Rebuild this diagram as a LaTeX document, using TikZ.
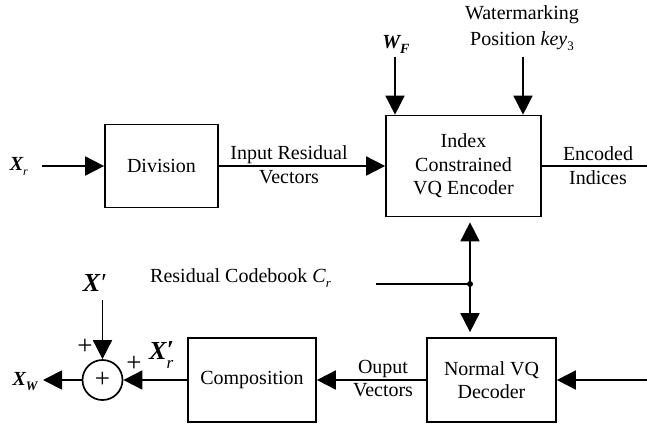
\documentclass[tikz,border=0pt]{standalone}
\usepackage{fontspec}
\setmainfont{Liberation Serif}
\usetikzlibrary{arrows.meta}

% small helpers for lowered/raised indices
\newcommand{\lowidx}[2]{\raisebox{-0.25em}{\fontsize{#1}{#1}\selectfont #2}}
\newcommand{\bix}{\bfseries\itshape}

\tikzset{
  txt/.style={font=\fontsize{20}{23.5}\selectfont, inner sep=0pt, align=center},
  blk/.style={draw, line width=1.7pt, txt, inner sep=0pt},
  arr/.style={line width=1.7pt, -{Triangle[length=19pt,width=19pt]}},
  wire/.style={line width=1.7pt},
  big/.style={font=\fontsize{26}{26}\selectfont, inner sep=0pt},
  plus/.style={font=\fontsize{27}{27}\selectfont, inner sep=0pt}
}

\begin{document}
\begin{tikzpicture}[x=1pt,y=-1pt]
\useasboundingbox (0,0) rectangle (647,428);

% blocks
\node[blk, minimum width=113pt, minimum height=83pt] (div) at (161.5,166) {Division};
\node[blk, minimum width=155pt, minimum height=101pt] (enc) at (463.5,166) {Index\\Constrained\\VQ Encoder};
\node[blk, minimum width=129pt, minimum height=84pt] (dec) at (491.5,380) {Normal VQ\\Decoder};
\node[blk, minimum width=128pt, minimum height=84pt] (comp) at (252,380) {Composition};
\node[draw, circle, line width=1.7pt, minimum size=40pt, inner sep=0pt, plus] (sum) at (102.5,380) {+};

% free ends
\coordinate (xrin) at (42,166);
\coordinate (wfin) at (395,57);
\coordinate (keyin) at (523,57);
\coordinate (eiout) at (647,166);
\coordinate (cbin) at (376,284);
\coordinate (jn) at (470,284);
\coordinate (decin) at (647,380);
\coordinate (xpin) at (102.5,300);
\coordinate (xwout) at (43,380);

% top row connectors
\draw[arr] (xrin) -- (div.west);
\draw[arr] (div.east) -- (enc.west);
\draw[arr] (wfin) -- (wfin |- enc.north);
\draw[arr] (keyin) -- (keyin |- enc.north);
\draw[wire] (enc.east) -- (eiout);

% codebook feed to encoder and decoder
\draw[wire] (cbin) -- (jn);
\draw[arr, shorten >=5pt] (jn) -- (jn |- enc.south);
\draw[arr, shorten >=5pt] (jn) -- (jn |- dec.north);
\fill (jn) circle (3pt);

% bottom row connectors
\draw[arr] (decin) -- (dec.east);
\draw[arr] (dec.west) -- (comp.east);
\draw[arr] (comp.west) -- (sum.east);
\draw[arr] (xpin) -- (sum.north);
\draw[arr] (sum.west) -- (xwout);

% labels
\node[txt, anchor=east] (lxr) at (28,166) {{\bix X}\lowidx{12}{\itshape r}};
\node[txt] (lin) at (289,164.5) {Input Residual\\Vectors};
\node[txt] (lwf) at (396,44) {{\bix W}\lowidx{14}{\bix F}};
\node[txt, font=\fontsize{20}{26}\selectfont] (lkey) at (522,28) {Watermarking\\Position {\itshape key}\lowidx{13}{3}};
\node[txt] (lei) at (598,165.5) {Encoded\\Indices};
\node[txt, anchor=west] (lcb) at (150,278) {Residual Codebook {\itshape C}\lowidx{13}{\itshape r}};
\node[txt] (lout) at (383,378.5) {Ouput\\Vectors};
\node[big, anchor=center] (lxp) at (95,283) {{\bix X\kern1pt}′};
\node[big, anchor=west] (lxpr) at (149,355) {{\bix X}\rlap{\raisebox{0.05em}{\bix ′}}\raisebox{-0.35em}{\fontsize{17}{17}\selectfont\itshape r}};
\node[txt] (lxw) at (25,382) {{\bix X}\lowidx{13}{\bix W}};
\node[plus] (pa) at (85,347) {+};
\node[plus] (pb) at (134,364) {+};
\end{tikzpicture}
\end{document}
